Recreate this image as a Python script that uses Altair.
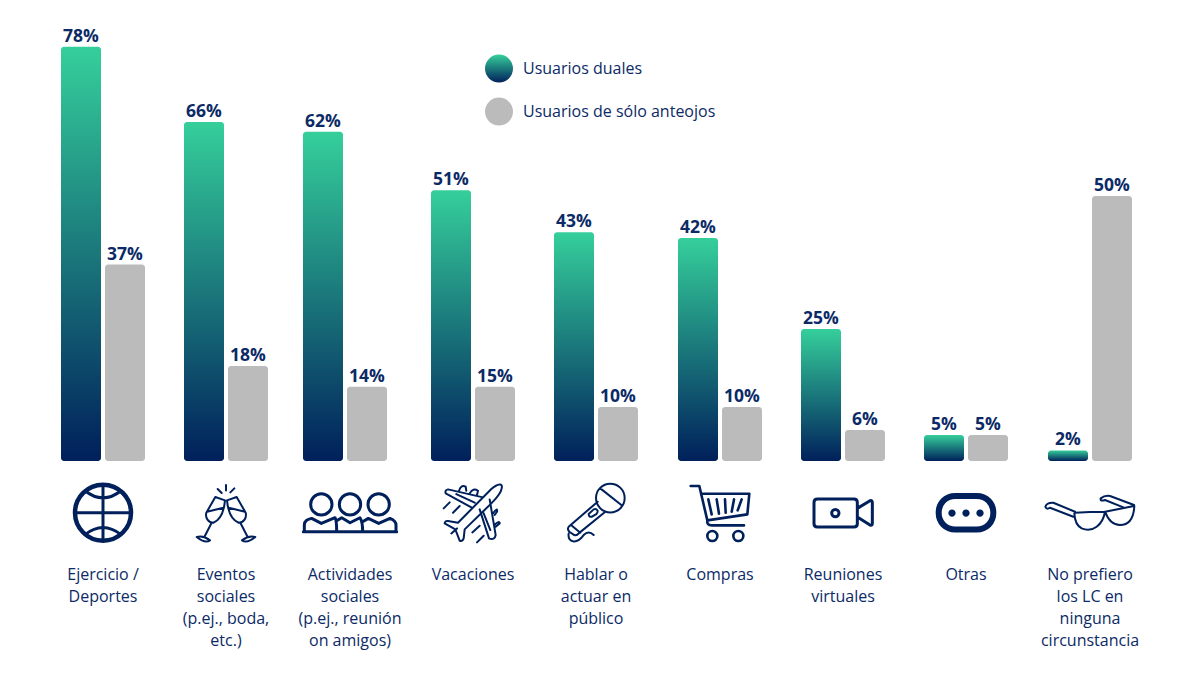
import re
import altair as alt
import pandas as pd

NAVY = "#00205B"
TEXT = "#0B2A66"
GREY = "#BBBBBB"
GREEN = "#35CF9B"
FONT = "Open Sans"

categories = ["Ejercicio /\nDeportes", "Eventos\nsociales\n(p.ej., boda,\netc.)",
              "Actividades\nsociales\n(p.ej., reunión\non amigos)", "Vacaciones",
              "Hablar o\nactuar en\npúblico", "Compras", "Reuniones\nvirtuales", "Otras",
              "No prefiero\nlos LC en\nninguna\ncircunstancia"]
dual_labels = ["78%", "66%", "62%", "51%", "43%", "42%", "25%", "5%", "2%"]
grey_labels = ["37%", "18%", "14%", "15%", "10%", "10%", "6%", "5%", "50%"]
dual_heights = [78, 63.85, 62, 51, 43.1, 42, 24.85, 4.9, 2]
grey_heights = [37, 17.9, 14, 14, 10.15, 10.15, 5.85, 4.9, 49.9]
bar_centers = [103, 226, 345, 473, 596, 720, 843, 966, 1090]
label_centers = [103, 226, 350, 473, 596, 720, 843, 966, 1090]
legend_names = ["Usuarios duales", "Usuarios de sólo anteojos"]
legend_levels = [73.9, 65.8]
legend_x = [499, 499]
legend_text_x = [523, 523]
ICON_LEVEL = -9.74
LABEL_LEVEL = -20.05


def circle(cx, cy, r):
    k = 0.5523 * r
    return (f"M{cx-r},{cy} C{cx-r},{cy-k} {cx-k},{cy-r} {cx},{cy-r} "
            f"C{cx+k},{cy-r} {cx+r},{cy-k} {cx+r},{cy} "
            f"C{cx+r},{cy+k} {cx+k},{cy+r} {cx},{cy+r} "
            f"C{cx-k},{cy+r} {cx-r},{cy+k} {cx-r},{cy} Z ")


def norm(path, cx, cy):
    """Glyph outline drawn at 3x, re-centred and reduced to screen size."""
    def repl(m):
        return f"{(float(m[1]) - cx) / 3:.2f},{(float(m[2]) - cy) / 3:.2f}"
    return re.sub(r"(-?[\d.]+),(-?[\d.]+)", repl, path)


people = (circle(844, 103, 32) + circle(930, 103, 32) + circle(1016, 103, 32))
icons = [
    (0, 189, 128, 4.5, circle(189, 128, 84)),
    (0, 189, 128, 3, "M189,44 L189,212 M105,128 L273,128 M135,62 Q189,105 243,62 M135,194 Q189,151 243,194"),
    (1, 558, 125, 2, "M526,78 L555,88 C553,110 545,145 520,155 C505,155 495,140 499,125 Z M501,122 L550,110 "
                     "M515,155 L493,198 M470,198 Q490,192 510,208 Q495,218 470,198 Z "
                     "M590,78 L561,88 C563,110 571,145 596,155 C611,155 621,140 617,125 Z M566,110 L615,122 "
                     "M601,155 L623,198 M646,198 Q626,192 606,208 Q621,218 646,198 Z "
                     "M558,42 L558,58 M533,54 L545,66 M583,52 L571,64"),
    (2, 930, 128, 3, people + "M790,185 L1070,185 M793,185 L793,165 C793,150 805,148 815,145 L844,160 L885,143 "
                     "C890,150 890,165 890,185 M890,152 L905,143 L930,158 L960,143 C968,155 968,170 968,185 "
                     "M968,155 L985,145 L1016,160 L1050,145 C1062,150 1068,155 1068,165 L1068,185"),
    (3, 160, 128, 2, "M215,57 C235,40 250,38 246,55 C244,70 230,85 215,100 L135,178 L132,205 Q128,215 120,212 "
                     "L107,178 L75,160 Q75,152 85,153 L115,158 Z M190,82 L85,58 Q75,60 78,70 L155,112 M110,72 L165,98 "
                     "M180,118 L208,205 Q225,212 228,195 L210,88 M192,130 L212,180 M118,62 Q125,42 138,50 L140,62 "
                     "M150,70 Q160,52 175,62 L172,75 M220,130 Q235,110 232,125 L225,135 M224,165 Q240,150 240,160 "
                     "L228,170 M72,115 L90,97 M100,128 L120,108 M95,190 L112,175 M158,187 L180,167 M172,217 L192,197"),
    (4, 527, 128, 2, circle(570, 84, 43) + "M540,55 L603,105 M532,95 L445,170 Q440,178 447,185 L462,195 "
                     "Q470,197 475,190 L555,125 M452,165 L480,188 M505,132 L520,118 Q528,115 532,122 Q532,128 528,132 "
                     "L515,140 Q505,142 505,132 Z M445,190 Q442,212 460,214 Q475,215 490,195 Q505,180 520,195"),
    (5, 900, 125, 2.6, circle(877, 195, 15) + circle(955, 195, 15) +
                     "M812,45 L838,45 L862,148 Q860,163 875,163 L972,163 M845,68 L988,68 L982,130 L862,148 "
                     "M865,85 L875,130 M890,85 L897,128 M915,85 L917,125 M942,85 L935,122 M965,85 L953,118"),
    (6, 189, 128, 3, "M112,87 L222,87 Q232,87 232,97 L232,161 Q232,171 222,171 L112,171 Q102,171 102,161 L102,97 Q102,87 112,87 Z "
                     + circle(166, 129, 11) +
                     "M232,115 L270,92 Q277,90 277,98 L277,160 Q277,168 270,165 L232,141"),
    (7, 558, 128, 6, "M526,78 L590,78 C620,78 640,100 640,128 C640,156 620,178 590,178 L526,178 "
                     "C496,178 476,156 476,128 C476,100 496,78 526,78 Z"),
    (8, 930, 128, 2, "M885,128 Q930,125 975,125 L1062,108 M883,130 Q885,165 905,175 Q930,185 950,170 Q970,155 975,125 "
                     "M975,125 Q990,165 1020,165 Q1060,165 1063,108 M885,125 L820,98 Q800,97 796,110 Q800,120 810,113 L880,140 "
                     "M1062,105 L990,78 Q975,75 962,85 Q960,95 975,90 L1030,112"),
]
icon_dots = [(7, 558, 128, circle(516, 129, 11) + circle(558, 129, 11) + circle(600, 129, 11))]

df_bars = pd.DataFrame({
    "center": bar_centers, "dual": dual_heights, "grey": grey_heights,
    "dual_label": dual_labels, "grey_label": grey_labels, "zero": 0,
})
df_bars["d0"] = df_bars.center - 42
df_bars["d1"] = df_bars.center - 2
df_bars["g0"] = df_bars.center + 2
df_bars["g1"] = df_bars.center + 42
df_bars["dm"] = df_bars.center - 22
df_bars["gm"] = df_bars.center + 22

df_cat = pd.DataFrame({"x": label_centers, "name": categories, "y": LABEL_LEVEL})
df_icons = pd.DataFrame([{"x": label_centers[i], "y": ICON_LEVEL, "sw": sw, "path": norm(p, cx, cy)}
                         for i, cx, cy, sw, p in icons])
df_dots = pd.DataFrame([{"x": label_centers[i], "y": ICON_LEVEL, "path": norm(p, cx, cy)}
                        for i, cx, cy, p in icon_dots])
df_leg = pd.DataFrame({"x": legend_x, "tx": legend_text_x, "y": legend_levels, "name": legend_names})

xs = alt.Scale(domain=[8, 1192], nice=False, zero=False)
ys = alt.Scale(domain=[-37.1, 85.31], nice=False, zero=False)
X = lambda f: alt.X(f, type="quantitative", scale=xs, axis=None)
Y = lambda f: alt.Y(f, type="quantitative", scale=ys, axis=None)

grad = alt.Gradient(gradient="linear", x1=0, x2=0, y1=0, y2=1,
                    stops=[alt.GradientStop(color=GREEN, offset=0), alt.GradientStop(color=NAVY, offset=1)])

bars_d = alt.Chart(df_bars).mark_bar(color=grad, cornerRadius=3).encode(x=X("d0"), x2="d1", y=Y("dual"), y2="zero")
bars_g = alt.Chart(df_bars).mark_bar(color=GREY, cornerRadius=3).encode(x=X("g0"), x2="g1", y=Y("grey"), y2="zero")

val_style = dict(font=FONT, fontSize=17.5, fontWeight="bold", color=TEXT, baseline="bottom", dy=-1)
labels_d = alt.Chart(df_bars).mark_text(**val_style).encode(x=X("dm"), y=Y("dual"), text="dual_label:N")
labels_g = alt.Chart(df_bars).mark_text(**val_style).encode(x=X("gm"), y=Y("grey"), text="grey_label:N")

icon_mark = alt.Chart(df_icons).mark_point(filled=False, color=NAVY, size=4, opacity=1,
                                           strokeCap="round", strokeJoin="round").encode(
    x=X("x"), y=Y("y"), shape=alt.Shape("path:N", scale=None, legend=None),
    strokeWidth=alt.StrokeWidth("sw:Q", scale=None, legend=None))
dot_mark = alt.Chart(df_dots).mark_point(filled=True, color=NAVY, size=4, opacity=1).encode(
    x=X("x"), y=Y("y"), shape=alt.Shape("path:N", scale=None, legend=None))

cat_text = alt.Chart(df_cat).mark_text(font=FONT, fontSize=16, color=TEXT, lineBreak="\n", lineHeight=22,
                                       baseline="top", align="center").encode(x=X("x"), y=Y("y"), text="name:N")

leg_a = alt.Chart(df_leg.iloc[[0]]).mark_circle(color=grad, size=784, opacity=1).encode(x=X("x"), y=Y("y"))
leg_b = alt.Chart(df_leg.iloc[[1]]).mark_circle(color=GREY, size=784, opacity=1).encode(x=X("x"), y=Y("y"))
leg_t = alt.Chart(df_leg).mark_text(font=FONT, fontSize=16, color=TEXT, align="left", baseline="middle").encode(
    x=X("tx"), y=Y("y"), text="name:N")

chart = alt.layer(bars_d, bars_g, labels_d, labels_g, icon_mark, dot_mark, cat_text, leg_a, leg_b, leg_t).properties(
    width=1184, height=650, padding=0, autosize=alt.AutoSizeParams(type="none"),
    background="white").configure_view(stroke=None)

chart.save("out.html", embed_options={"renderer": "svg", "actions": False})
